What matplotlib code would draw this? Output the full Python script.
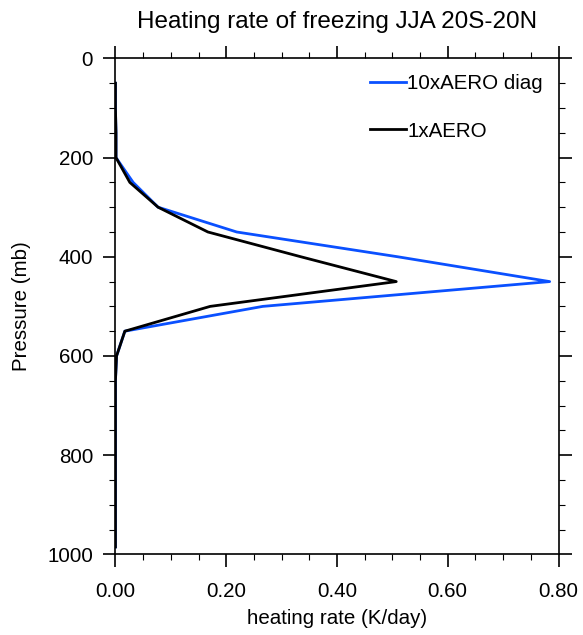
import numpy as np
import matplotlib.pyplot as plt
from matplotlib.ticker import MultipleLocator, FormatStrFormatter

plt.rcParams['font.family'] = ['Liberation Sans', 'DejaVu Sans']

# pressure levels (mb) and heating rates (K/day)
pressure = [50, 100, 150, 200, 250, 300, 350, 400, 450, 500, 550, 600,
            650, 700, 750, 800, 850, 900, 950, 985]
aero10 = [0.0, 0.0, 0.001, 0.001, 0.032, 0.077, 0.219, 0.51, 0.784, 0.266,
          0.017, 0.002, 0.0, 0.0, 0.0, 0.0, 0.0, 0.0, 0.0, 0.0]
aero1 = [0.0, 0.0, 0.001, 0.001, 0.026, 0.077, 0.167, 0.335, 0.507, 0.171,
         0.017, 0.002, 0.0, 0.0, 0.0, 0.0, 0.0, 0.0, 0.0, 0.0]

fig = plt.figure(figsize=(5.83, 6.35), dpi=100)
ax = fig.add_axes([0.198, 0.127, 0.760, 0.781])

ax.plot(aero10, pressure, color='#0a50ff', lw=2.0, label='10xAERO diag')
ax.plot(aero1, pressure, color='black', lw=2.0, label='1xAERO')

ax.set_xlim(0, 0.8)
ax.set_ylim(1000, 0)
ax.xaxis.set_major_locator(MultipleLocator(0.2))
ax.xaxis.set_minor_locator(MultipleLocator(0.05))
ax.xaxis.set_major_formatter(FormatStrFormatter('%.2f'))
ax.yaxis.set_major_locator(MultipleLocator(200))
ax.yaxis.set_minor_locator(MultipleLocator(50))

ax.tick_params(which='both', direction='out', top=True, right=True,
               labeltop=False, labelright=False, labelsize=14.8)
ax.tick_params(which='major', length=9, width=1.2)
ax.tick_params(which='minor', length=4, width=0.8)
ax.tick_params(axis='x', which='major', pad=11)
ax.tick_params(axis='y', which='major', pad=7)
for sp in ax.spines.values():
    sp.set_linewidth(1.2)
    sp.set_zorder(3)

ax.set_xlabel('heating rate (K/day)', fontsize=14.8, labelpad=6)
ax.set_ylabel('Pressure (mb)', fontsize=14.8, labelpad=12)
ax.set_title('Heating rate of freezing JJA 20S-20N', fontsize=17.5, pad=22)

ax.legend(loc='upper right', bbox_to_anchor=(1.0, 1.0), frameon=False,
          fontsize=14.8, handlelength=1.75, handletextpad=0.05,
          labelspacing=1.4, borderaxespad=0.35)

fig.savefig('out.png', dpi=100)
